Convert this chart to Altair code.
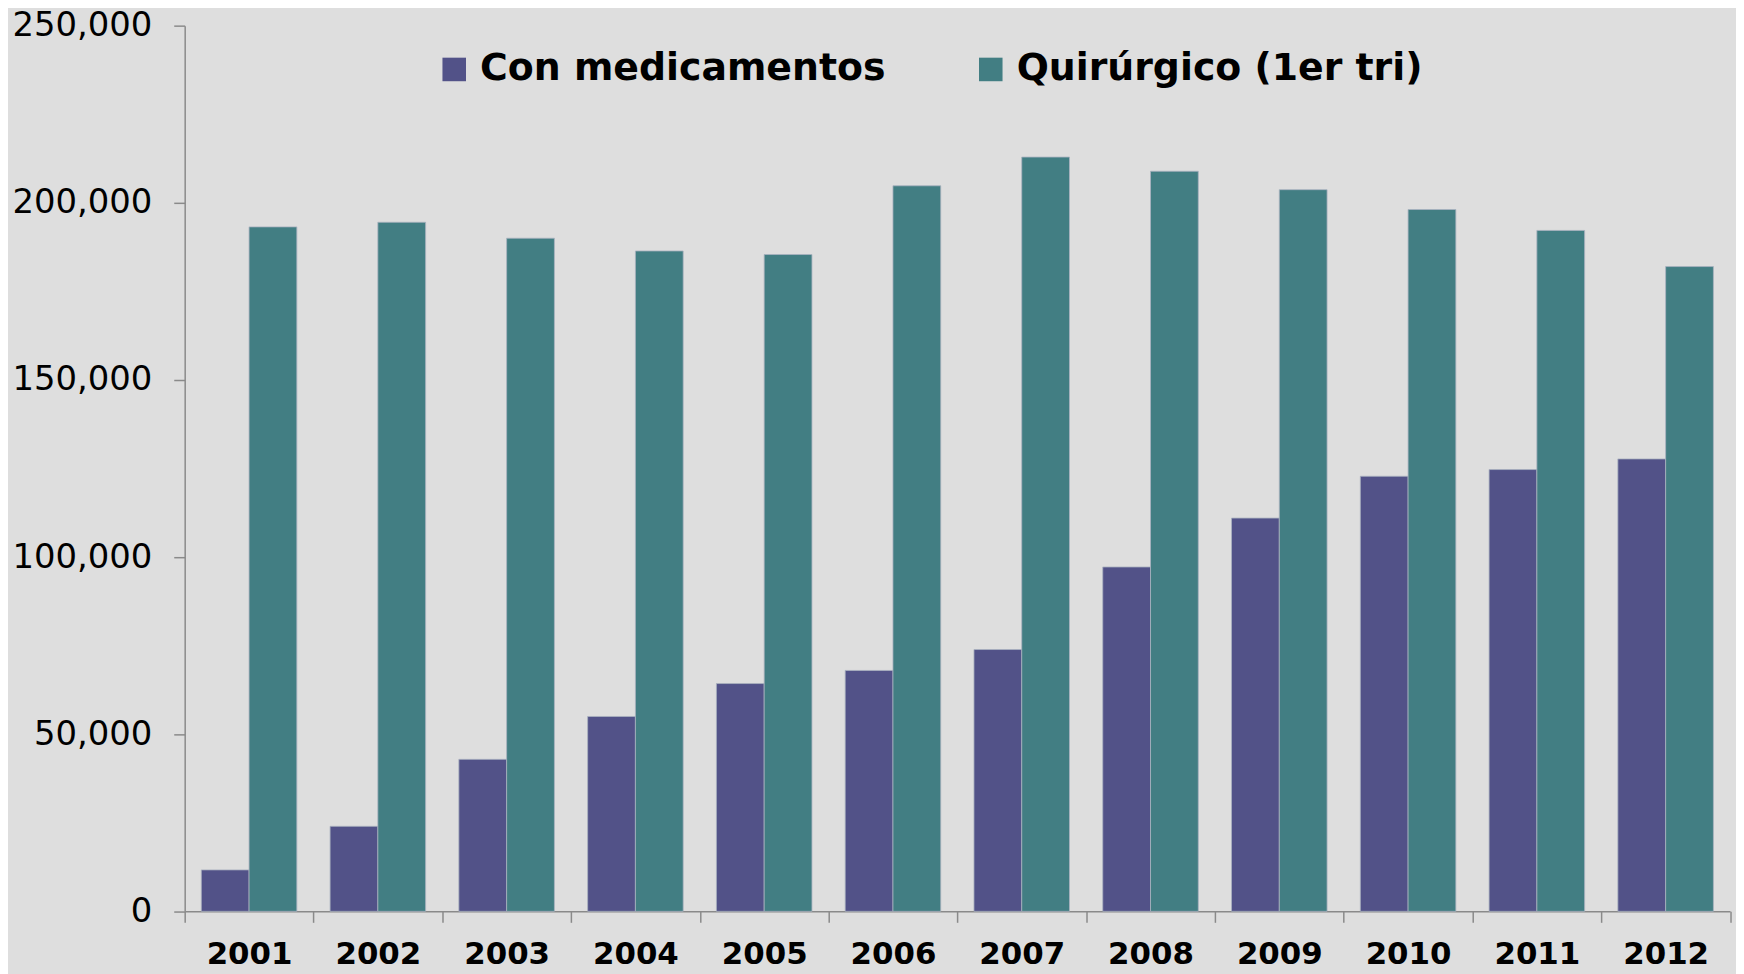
import altair as alt
import pandas as pd

years = ["2001", "2002", "2003", "2004", "2005", "2006",
         "2007", "2008", "2009", "2010", "2011", "2012"]
series = ["Con medicamentos", "Quirúrgico (1er tri)"]
medicamentos = [11700, 24000, 42900, 55000, 64300, 68000,
                73900, 97200, 111000, 122800, 124700, 127700]
quirurgico = [193200, 194500, 190000, 186400, 185400, 204800,
              212900, 208900, 203700, 198100, 192200, 182000]
colors = ["#525288", "#427e83"]
y_ticks = [0, 50000, 100000, 150000, 200000, 250000]

rows = []
for i, y in enumerate(years):
    rows.append({"year": y, "serie": series[0], "value": medicamentos[i]})
    rows.append({"year": y, "serie": series[1], "value": quirurgico[i]})
df = pd.DataFrame(rows)

chart = alt.Chart(df).mark_bar(
    stroke="#aab2c0", strokeWidth=1, strokeOpacity=0.8
).encode(
    x=alt.X("year:N", sort=years,
            scale=alt.Scale(paddingInner=0, paddingOuter=0),
            axis=alt.Axis(title=None, labelAngle=0, tickBand="extent",
                          labelFont="DejaVu Sans", labelFontWeight="bold",
                          labelFontSize=31, labelColor="#000000",
                          labelPadding=17, tickSize=11,
                          tickColor="#8a8a8a", domainColor="#8a8a8a",
                          tickWidth=1.5, domainWidth=1.5)),
    xOffset=alt.XOffset("serie:N", sort=series,
                        scale=alt.Scale(paddingInner=0, paddingOuter=0.348)),
    y=alt.Y("value:Q",
            scale=alt.Scale(domain=[0, 250000], nice=False),
            axis=alt.Axis(title=None, values=y_ticks, format=",d", grid=False,
                          labelFont="DejaVu Sans", labelFontSize=34,
                          labelColor="#000000", labelPadding=22, tickSize=11,
                          tickColor="#8a8a8a", domainColor="#8a8a8a",
                          tickWidth=1.5, domainWidth=1.5)),
    color=alt.Color("serie:N",
                    scale=alt.Scale(domain=series, range=colors),
                    legend=alt.Legend(title=None, orient="none",
                                      legendX=251.8, legendY=25,
                                      direction="horizontal",
                                      symbolType="square", symbolSize=560,
                                      symbolStrokeWidth=0,
                                      labelFont="DejaVu Sans",
                                      labelFontWeight="bold",
                                      labelFontSize=38, labelColor="#000000",
                                      labelOffset=7, columnPadding=86,
                                      labelLimit=1000)),
).properties(
    width=1552.5,
    height=889.8,
    autosize=alt.AutoSizeParams(type="none"),
    padding={"left": 177.5, "top": 15.5, "right": 6, "bottom": 60.5},
    background="#dedede",
).configure_view(stroke=None)

chart.save("out.html", embed_options={"renderer": "svg", "actions": False})
